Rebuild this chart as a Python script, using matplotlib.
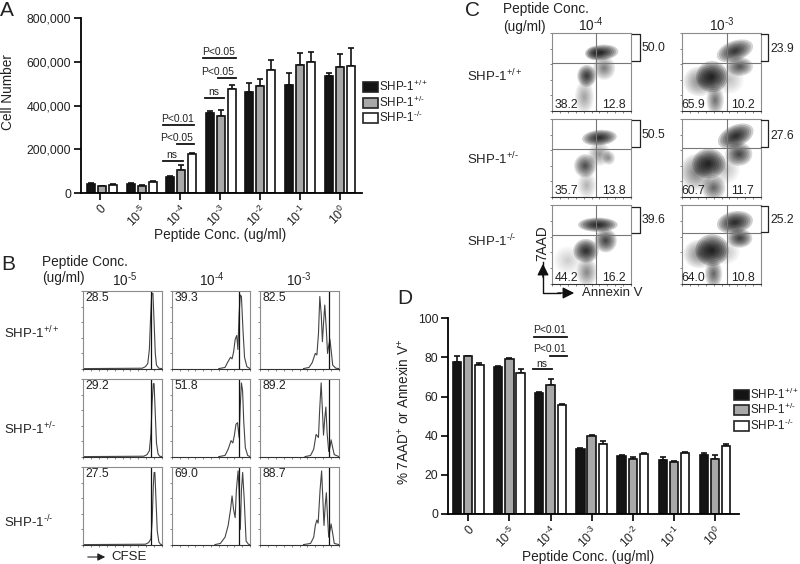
import numpy as np
import matplotlib
matplotlib.use('Agg')
import matplotlib.pyplot as plt
from matplotlib.patches import Ellipse, Rectangle

plt.rcParams['font.family'] = ['Liberation Sans', 'DejaVu Sans']
plt.rcParams['mathtext.default'] = 'regular'

W, H = 800, 564
TXT = '#222222'

conc_labels = ['0', '10$^{\u20105}$', '10$^{\u20104}$', '10$^{\u20103}$', '10$^{\u20102}$', '10$^{\u20101}$', '10$^{0}$']
genotypes = ['SHP-1$^{+/+}$', 'SHP-1$^{+/\u2010}$', 'SHP-1$^{\u2010/\u2010}$']
bar_colors = ['#141414', '#a8a8a8', '#ffffff']

# panel A, cell number
a_wt = [41000, 40000, 75000, 366000, 462000, 495000, 535000]
a_het = [32000, 33000, 104000, 354000, 489000, 584000, 576000]
a_ko = [36000, 52000, 177000, 474000, 562000, 597000, 580000]
a_wt_err = [3000, 7000, 3000, 9000, 39000, 52000, 15000]
a_het_err = [2000, 3000, 24000, 26000, 34000, 54000, 58000]
a_ko_err = [3000, 2000, 4000, 20000, 46000, 46000, 81000]

# panel D, % 7AAD+ or Annexin V+
d_wt = [77.5, 75.3, 61.7, 33.2, 29.6, 27.8, 30.3]
d_het = [80.6, 79.2, 66.1, 39.7, 28.3, 26.4, 28.1]
d_ko = [76.0, 72.2, 55.5, 35.6, 30.8, 31.3, 34.9]
d_wt_err = [3.0, 0.5, 0.7, 0.5, 0.7, 1.3, 0.9]
d_het_err = [0.3, 0.6, 2.7, 0.5, 0.8, 0.5, 2.1]
d_ko_err = [1.0, 1.8, 0.9, 1.9, 0.4, 0.6, 0.9]

# panel B, CFSE histograms: (% of width, % of height)
cfse_curves = [
    [[(0, .5), (75, 1), (79, 3), (82, 7), (84, 25), (85.5, 65), (87, 97), (88.5, 97), (90, 60), (91.5, 20), (93, 5), (96, 1), (100, .5)],
     [(60, .5), (68, 2), (71, 8), (75, 15), (77, 13), (79, 22), (81, 38), (83, 43), (84.5, 25), (86, 70), (87.5, 95), (89, 93), (91, 50), (93, 15), (96, 3), (100, .5)],
     [(55, .5), (62, 2), (66, 8), (70, 20), (72, 18), (74, 45), (75.7, 93), (77.5, 70), (79, 35), (80.5, 60), (82, 82), (84, 50), (85.5, 20), (87, 30), (88.5, 38), (90.5, 20), (92, 5), (96, 1), (100, .5)]],
    [[(0, .5), (77, 1), (81, 3), (84, 8), (86, 30), (87.5, 70), (89, 94), (90, 94), (91.5, 55), (93, 18), (95, 4), (97, 1), (100, .5)],
     [(60, .5), (68, 2), (72, 10), (75.7, 21), (78, 18), (80, 28), (82, 42), (84, 44), (86, 25), (87.5, 65), (89, 95), (90.5, 85), (92, 45), (94, 12), (97, 2), (100, .5)],
     [(57, .5), (64, 2), (68, 10), (71, 29), (74, 25), (75.5, 60), (77.4, 95), (79, 60), (80.4, 28), (82, 50), (83.4, 64), (85, 30), (87, 7), (88.5, 12), (90, 22), (92, 12), (94, 3), (100, .5)]],
    [[(0, .5), (79, 1), (83, 3), (86, 8), (87.5, 30), (89, 75), (90, 93), (91, 93), (92.5, 55), (94, 18), (96, 4), (98, 1), (100, .5)],
     [(55, .5), (62, 2), (68, 10), (72, 25), (75, 45), (77, 63), (79, 45), (81, 35), (82.5, 70), (84.7, 95), (86, 70), (87.6, 20), (89, 70), (90.6, 93), (92.5, 60), (95, 5), (98, 1), (100, .5)],
     [(55, .5), (64, 2), (68, 10), (70, 25), (72, 32), (73.6, 28), (76, 70), (78, 95), (79.5, 60), (81, 25), (82.5, 50), (84, 67), (85.5, 35), (87, 10), (88.5, 18), (90, 27), (92, 15), (94, 2), (100, .5)]],
]
cfse_gates = [86, 86.4, 86.8]
cfse_labels = [['28.5', '39.3', '82.5'], ['29.2', '51.8', '89.2'], ['27.5', '69.0', '88.7']]

# panel C, populations of each dot plot: x, y, width, height, angle, darkness
flow_clusters = [
    [[(63, 75, 42, 20, 5, .9), (54, 74, 24, 18, 0, .35), (66, 55, 28, 30, 0, .4), (44, 45, 24, 28, 0, .8), (41, 18, 24, 42, 0, .25)],
     [(38, 44, 40, 40, 0, 1.), (22, 38, 40, 38, 0, .35), (42, 14, 22, 38, 0, .45), (67, 77, 48, 26, 20, .85), (73, 57, 34, 24, 0, .6), (60, 40, 36, 36, 0, .15)]],
    [[(60, 76, 44, 20, 5, .95), (60, 55, 28, 30, 0, .3), (42, 40, 28, 30, 0, .65), (72, 50, 16, 18, 0, .3), (44, 15, 24, 34, 0, .2)],
     [(34, 43, 42, 38, 0, 1.), (18, 32, 40, 46, 0, .4), (40, 12, 30, 32, 0, .5), (68, 78, 48, 28, 25, .95), (72, 55, 34, 30, 0, .7), (55, 35, 36, 36, 0, .15)]],
    [[(58, 75, 50, 18, 0, 1.), (68, 55, 28, 30, 0, .7), (43, 42, 32, 30, 0, .9), (44, 15, 26, 36, 0, .35), (20, 30, 36, 36, 0, .12)],
     [(38, 43, 42, 40, 0, 1.), (22, 38, 40, 36, 0, .35), (40, 13, 22, 36, 0, .5), (67, 78, 46, 28, 10, .95), (73, 58, 32, 24, 0, .75), (55, 40, 36, 30, 0, .15)]],
]
flow_top = [['50.0', '23.9'], ['50.5', '27.6'], ['39.6', '25.2']]
flow_ll = [['38.2', '65.9'], ['35.7', '60.7'], ['44.2', '64.0']]
flow_lr = [['12.8', '10.2'], ['13.8', '11.7'], ['16.2', '10.8']]
flow_hline = [[61, 62], [62, 63], [62, 64]]
flow_vline = [56, 57]


def px_axes(x0, y0, x1, y1):
    return fig.add_axes([x0 / W, 1 - y1 / H, (x1 - x0) / W, (y1 - y0) / H])


def bars(ax, groups, errs, step, width):
    for i in range(3):
        x = np.arange(7) + (i - 1) * step
        ax.bar(x, groups[i], width, color=bar_colors[i], edgecolor='#111111', linewidth=1.2, zorder=2)
        ax.errorbar(x, groups[i], yerr=[np.zeros(7), errs[i]], fmt='none', ecolor='#111111',
                    elinewidth=1.2, capsize=2, capthick=1.2, zorder=1)
    for s in ['top', 'right']:
        ax.spines[s].set_visible(False)
    for s in ['left', 'bottom']:
        ax.spines[s].set_linewidth(1.3)
    ax.tick_params(length=5, width=1.2, labelsize=8.8, labelcolor=TXT, pad=2)
    ax.set_xticklabels(conc_labels, rotation=45, ha='right', rotation_mode='anchor')


def frame(ax):
    ax.set_xlim(0, 100)
    ax.set_ylim(0, 100)
    for s in ['top', 'right', 'left', 'bottom']:
        ax.spines[s].set_color('#8c8c8c')
        ax.spines[s].set_linewidth(0.8)
    ax.spines['bottom'].set_color('#333333')
    ax.set_xticks([0, 10, 20, 30, 40, 50, 60, 70, 80, 90, 100])
    ax.set_yticks([0, 20, 40, 60, 80, 100])
    ax.tick_params(length=1.5, width=0.5, color='#555555', labelleft=False, labelbottom=False, pad=0)


fig = plt.figure(figsize=(W / 100, H / 100), dpi=100)

# A
ax_a = px_axes(81, 18, 362, 193)
ax_a.set_xlim(-0.53, 6.566)
ax_a.set_ylim(0, 800000)
ax_a.set_xticks(np.arange(7) * 40 / 39.6 - 0.05)
ax_a.set_yticks([0, 200000, 400000, 600000, 800000])
ax_a.set_yticklabels(['0', '200,000', '400,000', '600,000', '800,000'])
bars(ax_a, [a_wt, a_het, a_ko], [a_wt_err, a_het_err, a_ko_err], 0.278, 0.2)

# D
ax_d = px_axes(448, 318.3, 739, 514)
ax_d.set_xlim(-0.494, 6.586)
ax_d.set_ylim(0, 100)
ax_d.set_xticks(np.arange(7))
ax_d.set_yticks([0, 20, 40, 60, 80, 100])
bars(ax_d, [d_wt, d_het, d_ko], [d_wt_err, d_het_err, d_ko_err], 0.272, 0.2)

# B
b_cols = [(83, 162), (172, 250), (260, 339)]
b_rows = [(291, 369), (379, 457), (467, 545)]
for r in range(3):
    for c in range(3):
        ax = px_axes(b_cols[c][0], b_rows[r][0], b_cols[c][1], b_rows[r][1])
        frame(ax)
        pts = np.array(cfse_curves[r][c])
        ax.plot(pts[:, 0], pts[:, 1], color='#444444', lw=0.8)
        ax.axvline(cfse_gates[c], color='#111111', lw=0.9)
        ax.text(3, 91, cfse_labels[r][c], fontsize=8.8, color=TXT, va='center')

# C
c_cols = [(552, 631), (682, 761)]
c_rows = [(33, 111), (119, 197), (205, 284)]
for r in range(3):
    for c in range(2):
        ax = px_axes(c_cols[c][0], c_rows[r][0], c_cols[c][1], c_rows[r][1])
        frame(ax)
        for cx, cy, w, h, ang, dark in flow_clusters[r][c]:
            for k in range(8):
                f = 1 - k / 8
                ax.add_patch(Ellipse((cx, cy), w * f, h * f, angle=ang, color='black',
                                     alpha=0.2 * dark, lw=0, zorder=1))
        ax.axhline(flow_hline[r][c], color='#777777', lw=0.8, zorder=3)
        ax.axvline(flow_vline[c], color='#777777', lw=0.8, zorder=3)
        ax.text(18 if c == 0 else 14, 8, flow_ll[r][c], fontsize=8.8, color=TXT, ha='center', va='center', zorder=4)
        ax.text(79 if c == 0 else 77, 8, flow_lr[r][c], fontsize=8.8, color=TXT, ha='center', va='center', zorder=4)

# overlay in pixel coordinates for the text, brackets and arrows
ov = fig.add_axes([0, 0, 1, 1])
ov.set_xlim(0, W)
ov.set_ylim(H, 0)
ov.axis('off')
ov.patch.set_alpha(0)


def label(x, y, s, size=9.8, ha='left', rot=0):
    ov.text(x, y, s, fontsize=size, ha=ha, va='center', color=TXT, rotation=rot)


for x, y, s in [(0, 10, 'A'), (1, 265, 'B'), (465, 10, 'C'), (397, 298, 'D')]:
    label(x, y, s, size=15)

label(8, 92, 'Cell Number', ha='center', rot=90)
label(220, 235, 'Peptide Conc. (ug/ml)', ha='center')
label(404, 412, '% 7AAD$^{+}$ or Annexin V$^{+}$', ha='center', rot=90)
label(588, 557, 'Peptide Conc. (ug/ml)', ha='center')


def sig(x0, x1, yline, xt, yt, s):
    ov.plot([x0, x1], [yline, yline], color='#111111', lw=1.3)
    label(xt, yt, s, size=7.4, ha='center')


# A significance bars
sig(163, 183, 160.5, 172, 155, 'ns')
sig(177, 194, 143.5, 177, 138, 'P<0.05')
sig(163, 194, 124.5, 178, 119, 'P<0.01')
sig(205, 224, 97.5, 214, 92, 'ns')
sig(218, 236, 78, 218, 72, 'P<0.05')
sig(203, 236, 58, 219, 52, 'P<0.05')
# D significance bars
sig(533, 552, 369, 542, 364, 'ns')
sig(550, 567, 355.5, 550, 349, 'P<0.01')
sig(534, 567, 336.5, 550, 330, 'P<0.01')


def legend(x0, tops, height, width):
    for i in range(3):
        ov.add_patch(Rectangle((x0, tops[i]), width, height, facecolor=bar_colors[i],
                               edgecolor='#222222', lw=1.2))
        label(x0 + width + 1.5, tops[i] + height / 2, genotypes[i], size=8.4)


legend(362.5, [82, 98, 113], 9.5, 15)
legend(733.5, [390, 405, 421], 9.5, 15)

# B text
label(42, 262, 'Peptide Conc.')
label(42, 278, '(ug/ml)')
for x, s in [(125, conc_labels[1]), (212, conc_labels[2]), (299, conc_labels[3])]:
    label(x, 280, s, ha='center')
for y, s in zip([333, 429, 522], genotypes):
    label(4, y, s, size=9.5)
ov.annotate('', xy=(108, 557), xytext=(85, 557),
            arrowprops=dict(arrowstyle='-|>', color='#222222', lw=0.8, mutation_scale=11))
label(111, 557, 'CFSE', size=9.5)

# C text
label(503, 9, 'Peptide Conc.')
label(503, 27, '(ug/ml)')
label(591, 25, conc_labels[2], ha='center')
label(722, 25, conc_labels[3], ha='center')
for y, s in zip([76, 159, 241], genotypes):
    label(467, y, s, size=9.5)

bracket_y = [[(33.5, 60.5), (34, 61)], [(120, 147), (120, 147)], [(207, 233), (206, 232)]]
bracket_x = [(632, 640), (761, 768)]
text_x = [642, 770]
text_y = [[48, 49], [135, 136], [220, 220]]
for r in range(3):
    for c in range(2):
        y0, y1 = bracket_y[r][c]
        x0, x1 = bracket_x[c]
        ov.plot([x0, x1, x1, x0], [y0, y0, y1, y1], color='#222222', lw=0.9)
        label(text_x[c], text_y[r][c], flow_top[r][c], size=8.8)

ov.plot([543, 543, 560], [262, 293, 293], color='#111111', lw=1)
ov.annotate('', xy=(543, 261), xytext=(543, 280),
            arrowprops=dict(arrowstyle='-|>', color='#111111', lw=1, mutation_scale=17))
ov.annotate('', xy=(577, 293), xytext=(555, 293),
            arrowprops=dict(arrowstyle='-|>', color='#111111', lw=1, mutation_scale=17))
label(542, 243, '7AAD', ha='center', rot=90)
label(582, 293, 'Annexin V', size=9.5)

fig.savefig('out.png', dpi=100)
